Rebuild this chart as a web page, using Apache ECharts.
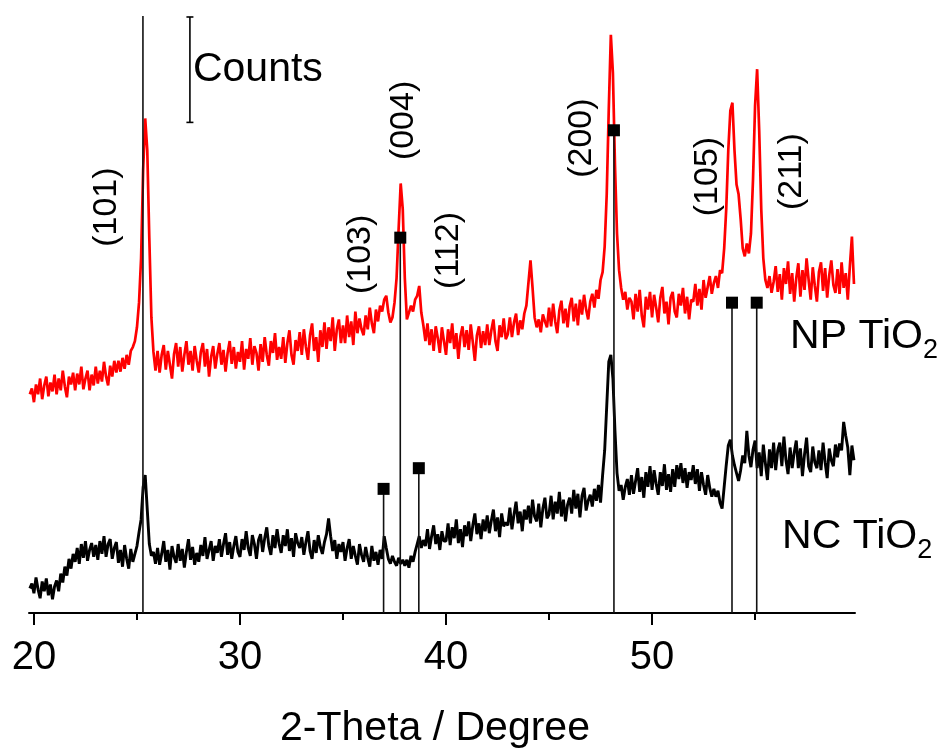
<!DOCTYPE html>
<html><head><meta charset="utf-8">
<script src="https://cdn.jsdelivr.net/npm/echarts@6/dist/echarts.min.js"></script>
<style>html,body{margin:0;padding:0;background:#fff}#c{width:942px;height:754px}</style>
</head><body><div id="c"></div>
<script>
// scan grid (degrees 2-theta)
const thetaStart = 19.8, thetaStep = 0.1;

// NP TiO2 (red) intensities, arbitrary counts
const npTiO2 = [222, 228,
214, 232, 222, 238, 217, 231, 240, 220, 234, 225,
242, 222, 238, 226, 246, 230, 219, 240, 232, 244,
226, 243, 232, 250, 227, 238, 246, 226, 242, 231,
250, 233, 246, 235, 255, 240, 231, 251, 240, 256,
244, 256, 245, 259, 248, 262, 252, 266, 270, 276,
290, 315, 360, 450, 502, 470, 380, 300, 265, 246,
266, 244, 262, 272, 247, 266, 252, 238, 263, 274,
250, 270, 245, 262, 276, 252, 266, 246, 271, 256,
244, 265, 274, 250, 268, 240, 260, 271, 248, 263,
274, 252, 267, 245, 264, 276, 253, 270, 248, 265,
255, 276, 247, 268, 258, 279, 252, 271, 264, 246,
273, 255, 280, 262, 251, 276, 264, 284, 257, 270,
258, 280, 254, 274, 287, 262, 252, 277, 266, 285,
262, 288, 270, 257, 282, 294, 266, 280, 255, 287,
270, 295, 268, 290, 276, 300, 266, 288, 298, 274,
292, 274, 302, 280, 296, 272, 306, 284, 299, 288,
282, 302, 288, 310, 294, 284, 308, 296, 312, 306,
318, 322, 305, 295, 300, 315, 340, 390, 436, 410,
340, 298, 305, 312, 306, 318, 322, 332, 305, 292,
276, 294, 272, 288, 266, 291, 279, 264, 290, 276,
262, 288, 274, 294, 268, 284, 258, 281, 291, 270,
287, 267, 293, 275, 256, 282, 291, 269, 286, 272,
293, 272, 287, 298, 276, 266, 292, 280, 299, 278,
283, 300, 280, 295, 304, 282, 297, 288, 304, 312,
335, 358, 330, 300, 290, 298, 285, 303, 296, 290,
310, 291, 314, 296, 284, 307, 317, 294, 309, 290,
311, 320, 296, 314, 292, 318, 303, 323, 308, 298,
316, 324, 310, 328, 319, 338, 346, 372, 425, 512,
587, 548, 455, 385, 348, 330, 318, 326, 308, 320,
316, 298, 324, 306, 328, 302, 290, 321, 308, 326,
300, 323, 310, 295, 320, 331, 304, 316, 293, 320,
326, 306, 300, 324, 312, 330, 304, 321, 298, 318,
316, 334, 312, 329, 308, 338, 320, 331, 342, 324,
335, 342, 330, 348, 345, 370, 410, 470, 510, 518,
470, 435, 425, 400, 370, 362, 375, 365, 385, 440,
515, 552, 490, 410, 360, 338, 330, 342, 325, 336,
352, 326, 344, 318, 350, 334, 357, 324, 345, 316,
340, 355, 321, 348, 328, 360, 338, 318, 351, 332,
316, 346, 356, 327, 350, 320, 343, 358, 333, 325,
349, 324, 356, 330, 345, 318, 352, 382, 334];

// NC TiO2 (black) intensities
const ncTiO2 = [25, 30,
20, 36, 24, 15, 32, 22, 35, 18, 29, 14,
27, 33, 22, 40, 31, 47, 38, 55, 45, 60,
52, 66, 50, 70, 56, 73, 53, 64, 71, 57,
69, 54, 73, 60, 78, 57, 70, 75, 55, 66,
72, 51, 64, 47, 69, 55, 45, 65, 52, 60,
68, 82, 95, 128, 140, 105, 70, 58, 62, 50,
66, 49, 60, 73, 52, 64, 44, 68, 57, 51,
70, 53, 65, 46, 62, 75, 54, 67, 49, 61,
52, 69, 58, 77, 55, 64, 73, 53, 68, 61,
75, 57, 70, 81, 59, 72, 55, 68, 78, 62,
57, 75, 64, 83, 66, 58, 79, 70, 55, 74,
80, 62, 76, 87, 68, 59, 79, 66, 85, 70,
61, 79, 68, 85, 63, 76, 57, 81, 71, 66,
77, 59, 72, 83, 63, 55, 74, 61, 79, 67,
60, 72, 80, 96, 78, 63, 74, 55, 70, 62,
72, 53, 66, 75, 55, 68, 58, 49, 70, 59,
52, 67, 56, 47, 68, 53, 62, 49, 64, 55,
78, 66, 55, 50, 58, 52, 48, 56, 50, 54,
48, 54, 46, 58, 52, 62, 70, 78, 66, 74,
68, 85, 65, 78, 89, 70, 80, 64, 83, 73,
73, 91, 69, 87, 76, 95, 71, 85, 67, 89,
78, 93, 73, 89, 101, 80, 91, 75, 95, 83,
99, 81, 94, 105, 83, 97, 77, 101, 88, 92,
89, 107, 85, 100, 113, 91, 103, 83, 105, 95,
109, 91, 115, 98, 93, 111, 87, 106, 117, 96,
100, 119, 95, 113, 101, 123, 98, 115, 93, 110,
117, 101, 125, 106, 121, 97, 119, 127, 104, 114,
120, 108, 126, 114, 130, 112, 140, 165, 210, 255,
262, 238, 185, 142, 124, 130, 115, 128, 136, 120,
140, 121, 134, 147, 123, 138, 117, 143, 128, 149,
125, 145, 131, 120, 143, 129, 151, 125, 141, 123,
146, 128, 150, 136, 152, 132, 147, 127, 143, 135,
150, 131, 146, 124, 143, 130, 120, 140, 127, 118,
126, 118, 124, 112, 106, 128, 150, 170, 176, 160,
150, 142, 134, 145, 160, 152, 185, 160, 148, 166,
175, 147, 163, 139, 171, 152, 135, 166, 147, 173,
145, 165, 173, 149, 179, 155, 141, 168, 147, 163,
175, 147, 167, 139, 161, 178, 149, 143, 169, 153,
147, 165, 145, 173, 153, 137, 167, 155, 149, 171,
158, 172, 165, 194, 180, 168, 140, 170, 155];

// anatase reference pattern (stick positions and heights)
const stickTheta  = [25.29, 36.97, 37.78, 38.68, 48.15, 53.88, 55.08];
const stickHeight = [606, 126, 381, 147, 490, 315, 315];
const stickHkl    = ['(101)', '(103)', '(004)', '(112)', '(200)', '(105)', '(211)'];
// where the hkl labels sit (theta, counts)
const hklLabelAt  = [[23.54, 412], [35.87, 364], [37.96, 500], [40.15, 368], [46.6, 482], [52.72, 443], [56.75, 448]];

// x-axis ticks
const majorTicks = [20, 30, 40, 50];
const minorTicks = [25, 35, 45, 55];

// counts scale bar: theta, lower end, upper end
const scaleBar = [27.57, 498, 605];

const sampleNames = [
  {name: 'NP TiO', sub: '2', at: [56.70, 280]},
  {name: 'NC TiO', sub: '2', at: [56.31, 77]}
];

const X_MIN = 19.76, X_MAX = 59.85, Y_MAX = 606;
const FONT = "'Liberation Sans', Arial, Helvetica, sans-serif";

const toPairs = arr => arr.map((v, i) => [Math.round((thetaStart + i * thetaStep) * 100) / 100, v]);

const chart = echarts.init(document.getElementById('c'), null, {renderer: 'canvas'});

const txt = {color: '#000', fontFamily: FONT, opacity: 1};

chart.setOption({
  animation: false,
  backgroundColor: '#fff',
  grid: {left: 29, right: 87, top: 16, bottom: 132, containLabel: false},
  xAxis: [{
    type: 'value', min: X_MIN, max: X_MAX,
    axisLine: {lineStyle: {color: '#000', width: 2}},
    axisTick: {customValues: majorTicks, length: 12, inside: false, lineStyle: {color: '#000', width: 2}},
    axisLabel: {customValues: majorTicks, fontSize: 40, color: '#000', fontFamily: FONT, margin: 25},
    splitLine: {show: false},
    name: '2-Theta / Degree', nameLocation: 'middle', nameGap: 95,
    nameTextStyle: {fontSize: 41, color: '#000', fontFamily: FONT, padding: [0, 14, 0, 0]}
  }, {
    type: 'value', min: X_MIN, max: X_MAX, position: 'bottom', gridIndex: 0,
    axisLine: {show: false},
    axisTick: {customValues: minorTicks, length: 7, inside: false, lineStyle: {color: '#000', width: 2}},
    axisLabel: {show: false},
    splitLine: {show: false}
  }],
  yAxis: {type: 'value', min: 0, max: Y_MAX, show: false, splitLine: {show: false}},
  series: [
    {
      name: 'NP TiO2', type: 'line', data: toPairs(npTiO2), showSymbol: false, symbol: 'none',
      lineStyle: {color: '#ff0000', width: 2.7}, z: 2
    },
    {
      name: 'NC TiO2', type: 'line', data: toPairs(ncTiO2), showSymbol: false, symbol: 'none',
      lineStyle: {color: '#000', width: 2.9}, z: 2
    },
    {
      name: 'anatase', type: 'custom', z: 4,
      data: stickTheta.map((t, i) => [t, stickHeight[i]]),
      renderItem: (params, api) => {
        const t = api.value(0), h = api.value(1);
        const b = api.coord([t, 0]), p = api.coord([t, h]);
        const ch = [{type: 'line', shape: {x1: b[0], y1: b[1], x2: p[0], y2: p[1]},
                     style: {stroke: '#111', lineWidth: 1.6}}];
        if (h < Y_MAX) ch.push({type: 'rect', shape: {x: p[0] - 6, y: p[1] - 6, width: 12, height: 12},
                                style: {fill: '#000'}});
        return {type: 'group', children: ch};
      }
    },
    {
      name: 'scale', type: 'custom', z: 4,
      data: [scaleBar],
      renderItem: (params, api) => {
        const a = api.coord([api.value(0), api.value(1)]);
        const c = api.coord([api.value(0), api.value(2)]);
        const st = {stroke: '#000', lineWidth: 1.6};
        return {type: 'group', children: [
          {type: 'line', shape: {x1: a[0], y1: a[1], x2: c[0], y2: c[1]}, style: st},
          {type: 'line', shape: {x1: a[0] - 3.5, y1: a[1], x2: a[0] + 3.5, y2: a[1]}, style: st},
          {type: 'line', shape: {x1: c[0] - 3.5, y1: c[1], x2: c[0] + 3.5, y2: c[1]}, style: st}
        ]};
      }
    },
    {
      name: 'counts label', type: 'scatter', symbolSize: 0, z: 5, itemStyle: {opacity: 1},
      data: [[scaleBar[0], (scaleBar[1] + scaleBar[2]) / 2]],
      label: Object.assign({show: true, position: 'right', distance: 3, formatter: 'Counts', fontSize: 41}, txt)
    },
    {
      name: 'hkl', type: 'scatter', symbolSize: 0, z: 5, itemStyle: {opacity: 1},
      data: hklLabelAt.map((p, i) => ({value: p, name: stickHkl[i]})),
      label: Object.assign({show: true, position: 'inside', rotate: 90, formatter: d => d.name,
              fontSize: 34, align: 'center', verticalAlign: 'middle'}, txt)
    },
    {
      name: 'samples', type: 'scatter', symbolSize: 0, z: 5, itemStyle: {opacity: 1},
      data: sampleNames.map(s => ({value: s.at, name: s.name, sub: s.sub})),
      label: Object.assign({show: true, position: 'right', distance: 0,
              formatter: d => '{m|' + d.name + '}{s|' + d.data.sub + '}',
              rich: {
                m: {fontSize: 41, color: '#000', fontFamily: FONT},
                s: {fontSize: 27, color: '#000', fontFamily: FONT, padding: [26, 0, 0, 0]}
              }}, txt)
    }
  ]
});
</script>
</body></html>
